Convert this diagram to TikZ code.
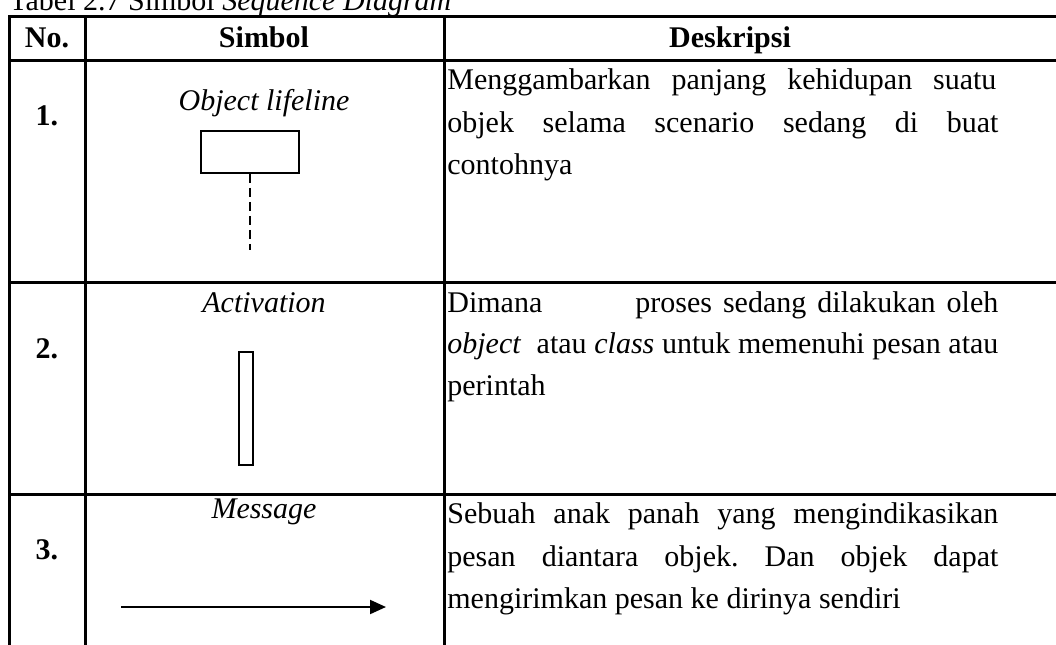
\documentclass[tikz,border=0pt]{standalone}
\usepackage{fontspec}
\setmainfont{Liberation Serif}
\usetikzlibrary{arrows.meta}
\frenchspacing
\begin{document}
\begin{tikzpicture}[x=0.5pt,y=-0.5pt,
  grid/.style={line width=1.5pt, line cap=rect},
  base/.style={inner sep=0pt, font=\fontsize{15}{17}\selectfont},
  txt/.style={base, anchor=base west},
  ctr/.style={base, anchor=base},
  hd/.style={ctr, font=\fontsize{15}{17}\selectfont\bfseries},
  lbl/.style={ctr, font=\fontsize{15}{17}\selectfont\itshape},
  symbox/.style={draw, line width=0.9pt, inner sep=0pt},
]
\useasboundingbox (0,0) rectangle (1056,644);
% caption
\node[txt] (cap) at (9,10) {Tabel 2.7 Simbol \textit{Sequence Diagram}};
% table rules
\foreach \yy in {16,60,282,494} \draw[grid] (9,\yy) -- (1056,\yy);
\foreach \xx in {9,85,444} \draw[grid] (\xx,16) -- (\xx,644);
% header
\node[hd] (hno) at (47,47) {No.};
\node[hd] (hsim) at (264,47) {Simbol};
\node[hd] (hdes) at (730,47) {Deskripsi};
% numbers
\node[hd] (n1) at (47,125) {1.};
\node[hd] (n2) at (47,358) {2.};
\node[hd] (n3) at (47,559) {3.};
% symbol labels
\node[lbl] (l1) at (264,110) {Object lifeline};
\node[lbl] (l2) at (264,312) {Activation};
\node[lbl] (l3) at (264,518) {Message};
% object lifeline
\node[symbox, minimum width=49pt, minimum height=21pt] (obj) at (250,152) {};
\coordinate (objend) at (250,250);
\draw[line width=1pt, dash pattern=on 4.5pt off 2.5pt] (obj.south) -- (objend);
% activation
\node[symbox, minimum width=7pt, minimum height=56.5pt] (act) at (246,408.5) {};
% message
\coordinate (msgA) at (121,607);
\coordinate (msgB) at (386,607);
\draw[line width=1pt, -{Triangle[length=8pt,width=7pt]}] (msgA) -- (msgB);
% descriptions
\node[txt] (d1a) at (447,89) {\makebox[274.5pt][s]{Menggambarkan panjang kehidupan suatu}};
\node[txt] (d1b) at (447,132) {\makebox[275.5pt][s]{objek selama scenario sedang di buat}};
\node[txt] (d1c) at (447,174) {contohnya};
\node[txt] (d2a) at (447,312) {Dimana};
\node[txt] (d2b) at (635,312) {\makebox[181.5pt][s]{proses sedang dilakukan oleh}};
\node[txt] (d2c) at (447,353) {\makebox[275.5pt][s]{\textit{object}\ \ atau \textit{class} untuk memenuhi pesan atau}};
\node[txt] (d2d) at (447,395) {perintah};
\node[txt] (d3a) at (447,523) {\makebox[275.5pt][s]{Sebuah anak panah yang mengindikasikan}};
\node[txt] (d3b) at (447,566) {\makebox[275.5pt][s]{pesan diantara objek. Dan objek dapat}};
\node[txt] (d3c) at (447,608) {mengirimkan pesan ke dirinya sendiri};
\end{tikzpicture}
\end{document}
